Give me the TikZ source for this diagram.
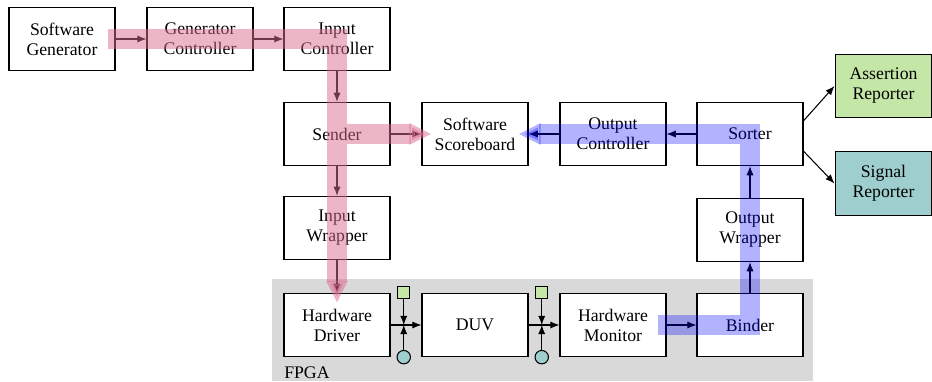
\documentclass[tikz,border=0pt]{standalone}
\usepackage{fontspec}
\setmainfont{Liberation Serif}
\usetikzlibrary{arrows.meta}

\definecolor{bandpink}{RGB}{220,110,145}
\definecolor{reportgreen}{RGB}{196,230,166}
\definecolor{reportteal}{RGB}{158,206,206}

\tikzset{
    block/.style={draw, fill=white, line width=0.75pt, minimum width=2.65cm, minimum height=1.58cm,
        align=center, inner sep=1pt, font=\fontsize{12.6}{14.2}\selectfont},
    reporter/.style={block, minimum width=2.42cm},
    arr/.style={-{Latex[length=2.3mm,width=1.8mm]}, line width=0.75pt},
    pinkband/.style={draw=bandpink, opacity=0.5, line width=0.5cm, -{Triangle[length=0.55cm,width=0.5cm]}},
    blueband/.style={draw=blue, opacity=0.3, line width=0.5cm, -{Triangle[length=0.55cm,width=0.5cm]}},
    probebox/.style={draw, fill=reportgreen, line width=0.75pt, minimum size=0.3cm, inner sep=0pt},
    probedot/.style={draw, circle, fill=reportteal, line width=0.75pt, minimum size=0.335cm, inner sep=0pt}
}

\begin{document}
\begin{tikzpicture}[x=0.025cm, y=-0.025cm]
    \useasboundingbox (0,0) rectangle (932,381);

    % FPGA region
    \fill[gray!30] (272,279) rectangle (813,381);
    \node[anchor=base west, inner sep=0pt, font=\fontsize{12.6}{14.2}\selectfont] (fpgalabel) at (284,378) {FPGA};

    % Software side
    \node[block] (swgen) at (62,39) {Software\\Generator};
    \node[block] (genctrl) at (200,39) {Generator\\Controller};
    \node[block] (inctrl) at (337,39) {Input\\Controller};
    \node[block] (sender) at (337,134) {Sender};
    \node[block] (scoreboard) at (475,134) {Software\\Scoreboard};
    \node[block] (outctrl) at (613,134) {Output\\Controller};
    \node[block] (sorter) at (750,134) {Sorter};
    \node[block] (inwrap) at (337,228) {Input\\Wrapper};
    \node[block] (outwrap) at (750,230) {Output\\Wrapper};

    % Reporters
    \node[reporter, fill=reportgreen] (assertrep) at (883.5,86) {Assertion\\Reporter};
    \node[reporter, fill=reportteal] (signalrep) at (883.5,183.5) {Signal\\Reporter};

    % Hardware side
    \node[block] (hwdriver) at (337,325) {Hardware\\Driver};
    \node[block] (duv) at (475,325) {DUV};
    \node[block] (hwmon) at (613,325) {Hardware\\Monitor};
    \node[block] (binder) at (750,325) {Binder};

    % Probes
    \coordinate (jin) at ([xshift=0.33cm]hwdriver.east);
    \coordinate (jout) at ([xshift=0.33cm]duv.east);
    \node[probebox] (boxin) at (jin |- hwdriver.north) {};
    \node[probedot] (dotin) at (jin |- hwdriver.south) {};
    \node[probebox] (boxout) at (jout |- duv.north) {};
    \node[probedot] (dotout) at (jout |- duv.south) {};

    % Connections
    \draw[arr] (swgen) -- (genctrl);
    \draw[arr] (genctrl) -- (inctrl);
    \draw[arr] (inctrl) -- (sender);
    \draw[arr] (sender) -- (scoreboard);
    \draw[arr] (sender) -- (inwrap);
    \draw[arr] (inwrap) -- (hwdriver);
    \draw[arr] (hwdriver) -- (duv);
    \draw[arr] (duv) -- (hwmon);
    \draw[arr] (hwmon) -- (binder);
    \draw[arr] (binder) -- (outwrap);
    \draw[arr] (outwrap) -- (sorter);
    \draw[arr] (sorter) -- (outctrl);
    \draw[arr] (outctrl) -- (scoreboard);
    \draw[arr] ([yshift=0.33cm]sorter.east) -- (assertrep.west);
    \draw[arr] ([yshift=-0.43cm]sorter.east) -- (signalrep.west);
    \draw[arr] (boxin) -- (jin);
    \draw[arr] (dotin) -- (jin);
    \draw[arr] (boxout) -- (jout);
    \draw[arr] (dotout) -- (jout);

    % Stimulus flow
    \draw[pinkband] ([xshift=-0.2cm]swgen.east) -- (inctrl.center) -- ([yshift=-0.25cm]hwdriver.north);
    \draw[pinkband] ([xshift=0.25cm]sender.center) -- ([xshift=0.25cm]scoreboard.west);

    % Response flow
    \draw[blueband] ([xshift=-0.225cm]hwmon.east) -- (binder.center) -- (sorter.center) -- ([xshift=-0.25cm]scoreboard.east);
\end{tikzpicture}
\end{document}
